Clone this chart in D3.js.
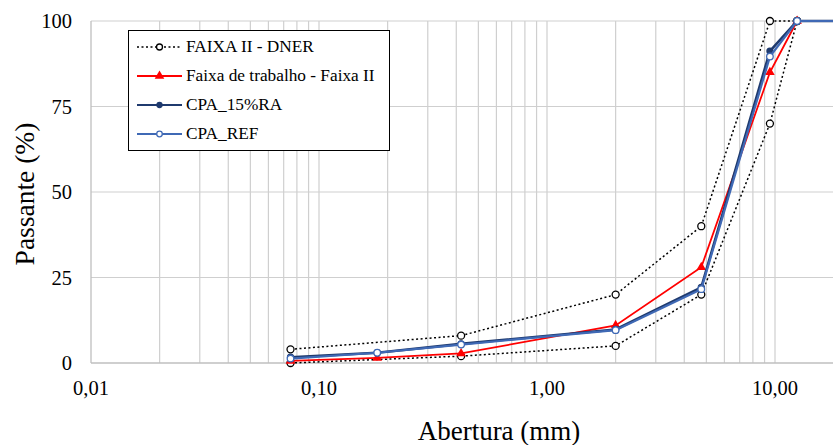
<!DOCTYPE html>
<html>
<head>
<meta charset="utf-8">
<script src="https://cdn.jsdelivr.net/npm/d3@7"></script>
<style>
  body { margin: 0; background: #fff; font-family: 'Times New Roman', 'Liberation Serif', serif; }
  #chart { position: relative; width: 833px; height: 445px; overflow: hidden; }
  #chart svg { position: absolute; left: 0; top: 0; display: block; }
  .lbl { position: absolute; color: #000; line-height: 1; white-space: nowrap; }
</style>
</head>
<body>
<div id="chart"></div>
<script>
// sieve openings (mm) and % passing
const dnerUpperX = [0.075, 0.42, 2.0, 4.75, 9.5, 12.5];
const dnerUpperY = [4, 8, 20, 40, 100, 100];
const dnerLowerX = [0.075, 0.42, 2.0, 4.75, 9.5, 12.5];
const dnerLowerY = [0, 2, 5, 20, 70, 100];

const sieves = [0.075, 0.18, 0.42, 2.0, 4.75, 9.5, 12.5, 19.1];
const faixaTrabalho = [0.6, 1.5, 2.8, 11, 28, 85, 100, 100];
const cpa15RA = [1.7, 3, 5.6, 9.8, 22.1, 91.2, 100, 100];
const cpaRef = [1.3, 3, 5.4, 9.6, 21.6, 89.6, 100, 100];

const yTicks = [0, 25, 50, 75, 100];
const xTicks = [0.01, 0.1, 1, 10];
const fmt = v => v.toFixed(2).replace('.', ',');

const width = 833, height = 445;
const margin = { left: 91, top: 21, bottom: 82 };
const serifFace = "'Times New Roman', 'Liberation Serif', serif";

const chart = d3.select('#chart');
const svg = chart.append('svg')
  .attr('width', width)
  .attr('height', height);

// text goes in html so the serif face is picked up
function label(x, y, txt, size, anchor, rotate) {
  const tx = anchor === 'end' ? '-100%' : anchor === 'start' ? '0' : '-50%';
  return chart.append('div')
    .attr('class', 'lbl')
    .style('font-family', serifFace)
    .style('left', x + 'px')
    .style('top', y + 'px')
    .style('font-size', size + 'px')
    .style('transform', 'translate(' + tx + ',-50%)' + (rotate ? ' rotate(' + rotate + 'deg)' : ''))
    .text(txt);
}

const x = d3.scaleLog()
  .domain([0.01, 100])
  .range([margin.left, margin.left + 4 * 228]);

const y = d3.scaleLinear()
  .domain([0, 100])
  .range([height - margin.bottom, margin.top]);

// minor + major vertical grid
const gridX = [];
for (let d = 0.01; d < 100; d *= 10) {
  for (let k = 1; k <= 9; k++) gridX.push(+(d * k).toPrecision(3));
}
svg.append('g').selectAll('line')
  .data(gridX.filter(v => v > 0.01))
  .enter().append('line')
  .attr('x1', d => x(d)).attr('x2', d => x(d))
  .attr('y1', y(0)).attr('y2', y(100))
  .attr('stroke', '#cfcfcf')
  .attr('stroke-width', 1.2);

svg.append('g').selectAll('line')
  .data(yTicks.filter(v => v > 0))
  .enter().append('line')
  .attr('x1', margin.left).attr('x2', width)
  .attr('y1', d => y(d)).attr('y2', d => y(d))
  .attr('stroke', '#cfcfcf')
  .attr('stroke-width', 1.2);

// axes lines
svg.append('line')
  .attr('x1', margin.left).attr('x2', width)
  .attr('y1', y(0)).attr('y2', y(0))
  .attr('stroke', '#bfbfbf').attr('stroke-width', 1.3);
svg.append('line')
  .attr('x1', margin.left).attr('x2', margin.left)
  .attr('y1', y(0)).attr('y2', y(100))
  .attr('stroke', '#bfbfbf').attr('stroke-width', 1.3);

// tick labels
yTicks.forEach(d => label(72, y(d), d, 20.5, 'end'));
xTicks.forEach(d => label(x(d), 388, fmt(d), 20.5, 'middle'));

// axis titles
label(25, 194, 'Passante (%)', 27.5, 'middle', -90);
label(499, 431, 'Abertura (mm)', 27, 'middle');

// series
const line = d3.line().x(d => x(d[0])).y(d => y(d[1]));
const zip = (a, b) => a.map((v, i) => [v, b[i]]);

const plot = svg.append('g');

function drawSeries(pts, opt) {
  plot.append('path')
    .datum(pts)
    .attr('d', line)
    .attr('fill', 'none')
    .attr('stroke', opt.color)
    .attr('stroke-width', opt.width)
    .attr('stroke-dasharray', opt.dash || null);
}

function drawMarkers(pts, opt) {
  const g = plot.append('g');
  if (opt.marker === 'triangle') {
    g.selectAll('path').data(pts).enter().append('path')
      .attr('d', d3.symbol().type(d3.symbolTriangle).size(40))
      .attr('transform', d => 'translate(' + x(d[0]) + ',' + y(d[1]) + ')')
      .attr('fill', opt.color);
  } else {
    g.selectAll('circle').data(pts).enter().append('circle')
      .attr('cx', d => x(d[0])).attr('cy', d => y(d[1]))
      .attr('r', opt.r)
      .attr('fill', opt.fill)
      .attr('stroke', opt.color)
      .attr('stroke-width', 1.3);
  }
}

const dnerStyle = { color: '#000', width: 1.5, dash: '2,2.5', r: 3.5, fill: '#fff' };
const faixaStyle = { color: '#ff0000', width: 1.8, marker: 'triangle' };
const cpa15Style = { color: '#1f3a6e', width: 2.6, r: 3, fill: '#1f3a6e' };
const refStyle = { color: '#3f69b5', width: 2.2, r: 3.3, fill: '#fff' };

const upper = zip(dnerUpperX, dnerUpperY);
const lower = zip(dnerLowerX, dnerLowerY);
drawSeries(upper, dnerStyle);
drawSeries(lower, dnerStyle);
drawMarkers(upper, dnerStyle);
drawMarkers(lower, dnerStyle);

const ft = zip(sieves, faixaTrabalho);
drawSeries(ft, faixaStyle);
drawMarkers(ft, faixaStyle);

const c15 = zip(sieves, cpa15RA);
drawSeries(c15, cpa15Style);
drawMarkers(c15, cpa15Style);

const cref = zip(sieves, cpaRef);
drawSeries(cref, refStyle);
drawMarkers(cref, refStyle);

// legend
const legendItems = [
  { label: 'FAIXA II - DNER', style: dnerStyle },
  { label: 'Faixa de trabalho - Faixa II', style: faixaStyle },
  { label: 'CPA_15%RA', style: cpa15Style },
  { label: 'CPA_REF', style: refStyle }
];

const lg = svg.append('g');
lg.append('rect')
  .attr('x', 128.5).attr('y', 30.5)
  .attr('width', 261).attr('height', 120)
  .attr('fill', '#fff')
  .attr('stroke', '#000')
  .attr('stroke-width', 1);

legendItems.forEach((it, i) => {
  const cy = 47 + i * 29;
  const s = it.style;
  lg.append('line')
    .attr('x1', 137).attr('x2', 182)
    .attr('y1', cy).attr('y2', cy)
    .attr('stroke', s.color)
    .attr('stroke-width', s.width > 2 ? 2 : s.width)
    .attr('stroke-dasharray', s.dash || null);
  if (s.marker === 'triangle') {
    lg.append('path')
      .attr('d', d3.symbol().type(d3.symbolTriangle).size(40))
      .attr('transform', 'translate(159.5,' + cy + ')')
      .attr('fill', s.color);
  } else {
    lg.append('circle')
      .attr('cx', 159.5).attr('cy', cy)
      .attr('r', s.r - 0.5)
      .attr('fill', s.fill)
      .attr('stroke', s.color)
      .attr('stroke-width', 1.3);
  }
  label(186, cy, it.label, 17.3, 'start');
});
</script>
</body>
</html>
